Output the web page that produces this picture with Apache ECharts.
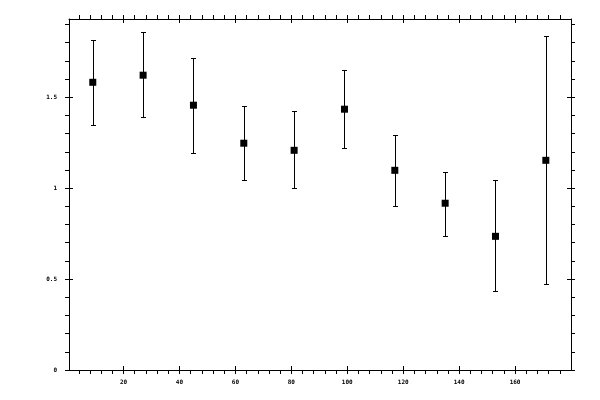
<!DOCTYPE html>
<html>
<head>
<meta charset="utf-8">
<script src="https://cdn.jsdelivr.net/npm/echarts@6/dist/echarts.min.js"></script>
<style>
html,body{margin:0;padding:0;background:#fff;}
#chart{width:600px;height:400px;}
</style>
</head>
<body>
<div id="chart"></div>
<script>
// Data
const xValues = [9, 27, 45, 63, 81, 99, 117, 135, 153, 171];
const yValues = [1.582, 1.621, 1.456, 1.247, 1.208, 1.434, 1.098, 0.917, 0.735, 1.153];
const yLow    = [1.346, 1.390, 1.192, 1.043, 0.999, 1.219, 0.900, 0.735, 0.433, 0.471];
const yHigh   = [1.817, 1.857, 1.713, 1.450, 1.423, 1.648, 1.294, 1.091, 1.043, 1.837];

// Tick labels / positions
const xMajorTicks = [20, 40, 60, 80, 100, 120, 140, 160];
const yMajorTicks = [0, 0.5, 1, 1.5];
const xMinorTicks = [];
for (let v = 4; v < 180; v += 4) if (v % 20 !== 0) xMinorTicks.push(v);
const yMinorTicks = [];
for (let i = 1; i <= 19; i++) if (i % 5 !== 0) yMinorTicks.push(i / 10);

const X_MIN = 0.5, X_MAX = 180, Y_MIN = 0, Y_MAX = 1.93;
const FONT = 'DejaVu Sans Mono';

function axisBase(pos, min, max) {
  return {
    type: 'value', position: pos, min: min, max: max,
    splitLine: { show: false },
    axisLine: { show: false, onZero: false },
    axisTick: { show: false },
    axisLabel: { show: false }
  };
}
function mainAxis(pos, min, max, majors, withLabels, margin) {
  const a = axisBase(pos, min, max);
  a.axisLine = { show: true, onZero: false, lineStyle: { color: '#000', width: 1 } };
  a.axisTick = { show: true, inside: false, length: 4, customValues: majors, lineStyle: { color: '#000', width: 1 } };
  a.axisLabel = withLabels
    ? { show: true, customValues: majors, color: '#000', fontFamily: FONT, fontSize: 6, fontWeight: 'bold', margin: margin }
    : { show: false };
  return a;
}
function tickAxis(pos, min, max, values, inside) {
  const a = axisBase(pos, min, max);
  a.axisTick = { show: true, inside: inside, length: 4, customValues: values, lineStyle: { color: '#000', width: 1 } };
  return a;
}

const xAxes = [
  mainAxis('bottom', X_MIN, X_MAX, xMajorTicks, true, 9),
  tickAxis('bottom', X_MIN, X_MAX, xMinorTicks, false),
  tickAxis('bottom', X_MIN, X_MAX, xMajorTicks, true),
  mainAxis('top', X_MIN, X_MAX, xMajorTicks, false, 8),
  tickAxis('top', X_MIN, X_MAX, xMinorTicks, false),
  tickAxis('top', X_MIN, X_MAX, xMajorTicks, true)
];
const yAxes = [
  mainAxis('left', Y_MIN, Y_MAX, yMajorTicks, true, 12),
  tickAxis('left', Y_MIN, Y_MAX, yMinorTicks, false),
  tickAxis('left', Y_MIN, Y_MAX, yMajorTicks, true),
  mainAxis('right', Y_MIN, Y_MAX, yMajorTicks, false, 8),
  tickAxis('right', Y_MIN, Y_MAX, yMinorTicks, false),
  tickAxis('right', Y_MIN, Y_MAX, yMajorTicks, true)
];

const pointData = xValues.map((x, i) => [x, yValues[i]]);
const errData = xValues.map((x, i) => [x, yLow[i], yHigh[i]]);

const chart = echarts.init(document.getElementById('chart'), null, { renderer: 'canvas' });
chart.setOption({
  animation: false,
  backgroundColor: '#fff',
  grid: { left: 69, right: 29, top: 19, bottom: 30, containLabel: false },
  xAxis: xAxes,
  yAxis: yAxes,
  series: [
    {
      type: 'custom',
      xAxisIndex: 0, yAxisIndex: 0,
      data: errData,
      renderItem: function (params, api) {
        const x = api.value(0);
        const lo = api.coord([x, api.value(1)]);
        const hi = api.coord([x, api.value(2)]);
        const cx = Math.round(lo[0]) + 0.5;
        const yl = Math.round(lo[1]) + 0.5, yh = Math.round(hi[1]) + 0.5;
        const w = 2.5;
        const style = { stroke: '#000', lineWidth: 1, opacity: 1 };
        return {
          type: 'group',
          children: [
            { type: 'line', shape: { x1: cx, y1: yh, x2: cx, y2: yl }, style: style },
            { type: 'line', shape: { x1: cx - w, y1: yh, x2: cx + w, y2: yh }, style: style },
            { type: 'line', shape: { x1: cx - w, y1: yl, x2: cx + w, y2: yl }, style: style }
          ]
        };
      },
      z: 2
    },
    {
      type: 'scatter',
      xAxisIndex: 0, yAxisIndex: 0,
      data: pointData,
      symbol: 'rect',
      symbolSize: 7,
      itemStyle: { color: '#000', opacity: 1 },
      z: 3
    }
  ]
});
</script>
</body>
</html>
